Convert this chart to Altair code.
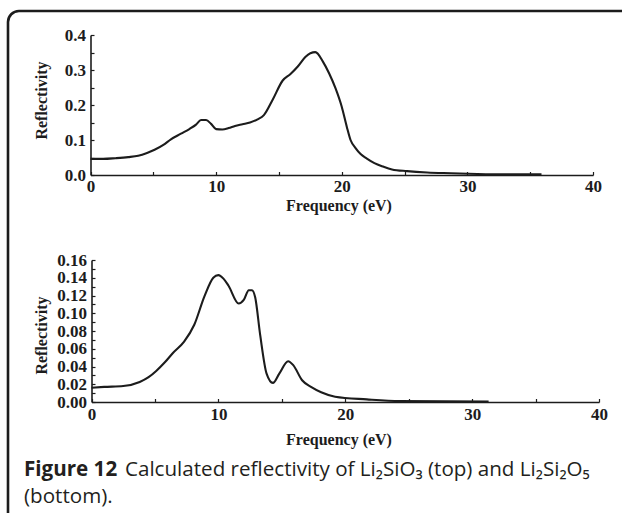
import altair as alt
import pandas as pd

# ---------------- data ----------------
top_freq = [0.0, 1.0, 2.0, 3.0, 3.8, 4.5, 5.1, 5.8, 6.4, 7.2, 7.9, 8.4, 8.8, 9.2,
            9.6, 10.0, 10.5, 11.0, 11.5, 12.1, 12.7, 13.3, 13.8, 14.5, 15.3, 15.9,
            16.5, 17.1, 17.5, 17.9, 18.5, 19.0, 19.5, 20.0, 20.4, 20.7, 21.1, 21.5,
            22.0, 22.6, 23.3, 24.0, 25.2, 26.8, 28.7, 30.8, 33.0, 35.9]
top_refl = [0.046, 0.046, 0.048, 0.051, 0.055, 0.063, 0.072, 0.086, 0.102, 0.118,
            0.132, 0.144, 0.157, 0.157, 0.146, 0.131, 0.130, 0.134, 0.140, 0.145,
            0.150, 0.159, 0.171, 0.215, 0.270, 0.288, 0.310, 0.337, 0.348, 0.351,
            0.324, 0.290, 0.248, 0.195, 0.138, 0.100, 0.077, 0.060, 0.047, 0.034,
            0.024, 0.016, 0.011, 0.007, 0.005, 0.003, 0.002, 0.002]

bot_freq = [0.0, 1.0, 2.5, 3.8, 4.5, 5.1, 5.8, 6.4, 7.3, 8.1, 8.9, 9.6, 10.0, 10.4,
            10.8, 11.6, 12.0, 12.4, 12.65, 12.9, 13.3, 13.8, 14.3, 14.8, 15.5, 15.9,
            16.6, 17.3, 18.1, 19.2, 21.7, 24.3, 31.3]
bot_refl = [0.016, 0.017, 0.018, 0.0226, 0.028, 0.035, 0.045, 0.055, 0.068, 0.087,
            0.119, 0.140, 0.143, 0.139, 0.131, 0.111, 0.115, 0.126, 0.126, 0.118,
            0.075, 0.032, 0.0215, 0.032, 0.046, 0.0415, 0.0245, 0.017, 0.011,
            0.006, 0.003, 0.001, 0.0005]

x_labels = [0, 10, 20, 30, 40]
x_ticks = [0, 5, 10, 15, 20, 25, 30, 35, 40]
top_y_labels = [0.0, 0.1, 0.2, 0.3, 0.4]
top_y_ticks = [0.0, 0.05, 0.1, 0.15, 0.2, 0.25, 0.3, 0.35, 0.4]
bot_y_labels = [0.0, 0.02, 0.04, 0.06, 0.08, 0.10, 0.12, 0.14, 0.16]
bot_y_ticks = [0.0, 0.01, 0.02, 0.03, 0.04, 0.05, 0.06, 0.07, 0.08, 0.09, 0.10,
               0.11, 0.12, 0.13, 0.14, 0.15, 0.16]

x_title = "Frequency (eV)"
y_title = "Reflectivity"
caption_bold = "Figure 12"
caption_rest = "Calculated reflectivity of Li\u2082SiO\u2083 (top) and Li\u2082Si\u2082O\u2085"
caption_line2 = "(bottom)."

# ---------------- layout ----------------
W, H = 622, 513
INK = "#1c1c1c"
SERIF = "Liberation Serif"
SANS = "Open Sans"
CAP_SIZE = 20.6


def panel(freq, refl, xr, yr, ymax, ylabels, yfmt, yticks, xlab_pad, xtitle_y,
          ytitle_x, ytitle_y, ylab_pad):
    df = pd.DataFrame({"freq": freq, "refl": refl})
    xs = alt.Scale(domain=[0, 40], range=xr, nice=False, zero=False)
    ys = alt.Scale(domain=[0, ymax], range=yr, nice=False, zero=False)
    common = dict(
        ticks=False, grid=False, domainColor=INK, domainWidth=1.6,
        labelFont=SERIF, labelFontWeight="bold", labelFontSize=17,
        labelColor=INK, labelFlush=False, labelOverlap=False,
        titleFont=SERIF, titleFontWeight="bold", titleFontSize=16,
        titleColor=INK, titleAlign="center",
    )
    xaxis = alt.Axis(
        orient="bottom", offset=yr[0] - H, values=x_labels, format="d",
        labelPadding=xlab_pad, title=x_title, titleX=338.5, titleY=xtitle_y,
        titleBaseline="alphabetic", **common,
    )
    yaxis = alt.Axis(
        orient="left", offset=-xr[0], values=ylabels, format=yfmt,
        labelPadding=ylab_pad, title=y_title, titleX=ytitle_x - xr[0],
        titleY=ytitle_y, titleAngle=270, titleBaseline="middle",
        **common,
    )
    line = alt.Chart(df).mark_line(
        color=INK, strokeWidth=2.1, interpolate="monotone").encode(
        x=alt.X("freq:Q", scale=xs, axis=xaxis),
        y=alt.Y("refl:Q", scale=ys, axis=yaxis),
    )
    # second, label-less axes on the inner side carry the small inward ticks
    tick_common = dict(
        labels=False, domain=False, grid=False, ticks=True, tickSize=3.5,
        tickWidth=1.2, tickColor=INK,
    )
    xtick_axis = alt.Axis(orient="top", offset=-yr[0], values=x_ticks, **tick_common)
    ytick_axis = alt.Axis(orient="right", offset=xr[0] - W, values=yticks, **tick_common)
    ghost = alt.Chart(df).mark_line(opacity=0).encode(
        x=alt.X("freq:Q", scale=xs, axis=xtick_axis, title=None),
        y=alt.Y("refl:Q", scale=ys, axis=ytick_axis, title=None),
    )
    return [line, ghost]


top = panel(top_freq, top_refl, [90.5, 593], [175, 35], 0.4, top_y_labels, ".1f",
            top_y_ticks, 3, 35, 41, 100, 5)
bottom = panel(bot_freq, bot_refl, [91.5, 599], [402, 260], 0.16, bot_y_labels,
               ".2f", bot_y_ticks, 4, 42, 41, 335, 5)

one = alt.Data(values=[{"a": 1}])
R = 11
BX, BY = 8, 11
border_top = alt.Chart(one).mark_rule(color=INK, strokeWidth=2.6).encode(
    x=alt.value(BX + R), x2=alt.value(W), y=alt.value(BY))
border_left = alt.Chart(one).mark_rule(color=INK, strokeWidth=2.6).encode(
    x=alt.value(BX), y=alt.value(BY + R), y2=alt.value(H))
border_corner = alt.Chart(one).mark_arc(
    color=INK, theta=4.712389, theta2=6.283185,
    innerRadius=R - 1.3, outerRadius=R + 1.3).encode(
    x=alt.value(BX + R), y=alt.value(BY + R))

cap1 = alt.Chart(one).mark_text(
    text=caption_bold, font=SANS, fontWeight="bold", fontSize=CAP_SIZE,
    align="left", baseline="alphabetic", color="#231f20").encode(
    x=alt.value(24), y=alt.value(476))
cap2 = alt.Chart(one).mark_text(
    text=caption_rest, font=SANS, fontSize=CAP_SIZE,
    align="left", baseline="alphabetic", color="#231f20").encode(
    x=alt.value(125), y=alt.value(476))
cap3 = alt.Chart(one).mark_text(
    text=caption_line2, font=SANS, fontSize=CAP_SIZE,
    align="left", baseline="alphabetic", color="#231f20").encode(
    x=alt.value(24), y=alt.value(503))

chart = alt.layer(
    *top, *bottom, border_top, border_left, border_corner, cap1, cap2, cap3
).resolve_scale(x="independent", y="independent").properties(
    width=W, height=H, padding=0,
    autosize=alt.AutoSizeParams(type="none"),
    background="white",
).configure_view(stroke="transparent")

chart.save("out.html", embed_options={"renderer": "svg", "actions": False})
